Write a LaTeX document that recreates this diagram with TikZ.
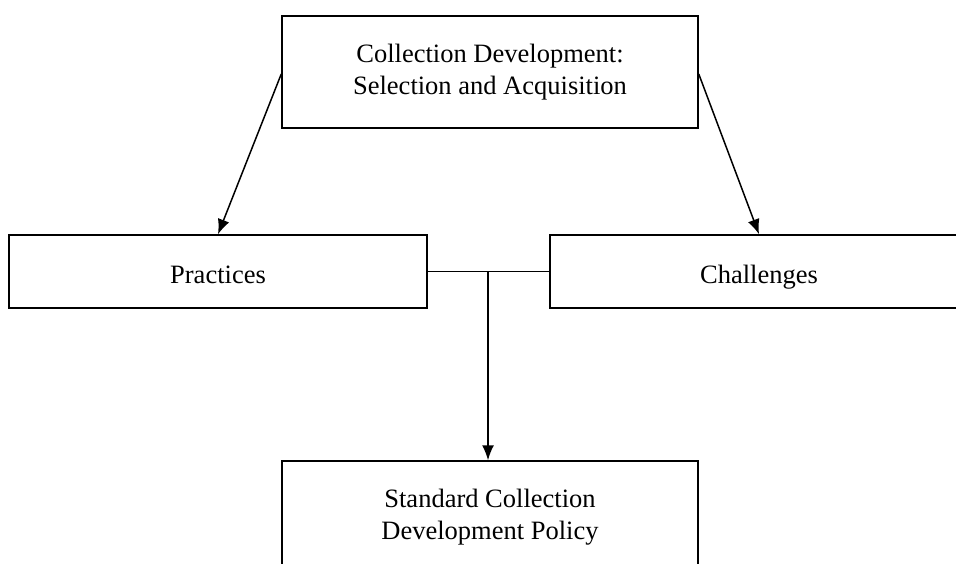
\documentclass[tikz,border=0pt]{standalone}
\usepackage{fontspec}
\setmainfont{Liberation Serif}
\usetikzlibrary{arrows.meta}
\begin{document}
\begin{tikzpicture}[x=0.5pt,y=-0.5pt,
  box/.style={draw, line width=0.75pt, inner sep=0pt, align=center,
    font=\fontsize{13.25}{16}\selectfont},
  onebox/.style={box, minimum width=209pt, minimum height=36.5pt,
    text height=13pt, text depth=1pt},
  conn/.style={line width=0.75pt},
  arr/.style={line width=0.75pt, -{Latex[length=7.5pt,width=6pt]}}]
\useasboundingbox (0,0) rectangle (956,563);
\clip (0,0) rectangle (956,563);
\fill[white] (0,0) rectangle (956,563);
\node[box, minimum width=208pt, minimum height=56pt] (top) at (490,72)
  {Collection Development:\\Selection and Acquisition};
\node[onebox] (prac) at (218,271.5) {Practices};
\node[onebox] (chal) at (759,271.5) {Challenges};
\node[box, minimum width=208pt, minimum height=56pt] (bot) at (490,517)
  {Standard Collection\\Development Policy};
\draw[arr] ([yshift=-1pt]top.west) -- (prac.north);
\draw[arr] ([yshift=-1pt]top.east) -- (chal.north);
\draw[conn] (prac.east) -- (chal.west);
\coordinate (j) at (488,271.5);
\draw[arr] (j) -- (j |- bot.north);
\end{tikzpicture}
\end{document}
